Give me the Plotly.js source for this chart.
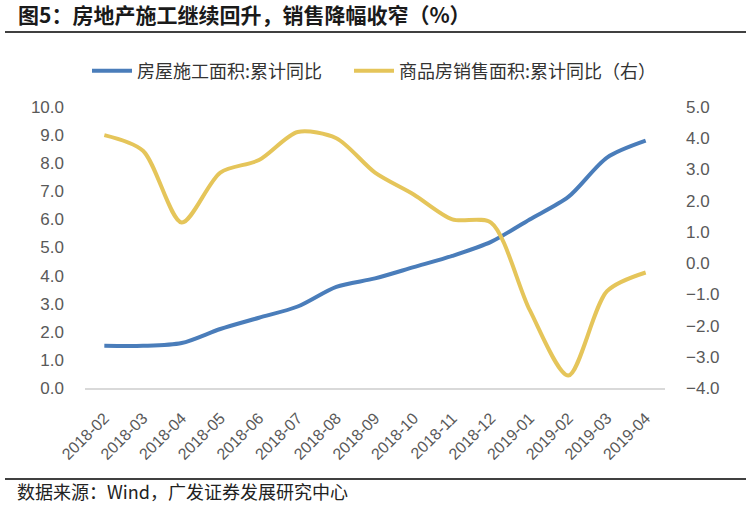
<!DOCTYPE html>
<html>
<head>
<meta charset="utf-8">
<script src="https://cdn.plot.ly/plotly-3.0.1.min.js"></script>
<style>html,body{margin:0;padding:0;background:#fff;}#chart{width:746px;height:514px;}</style>
</head>
<body>
<div id="chart"></div>
<script>
const months = ["2018-02","2018-03","2018-04","2018-05","2018-06","2018-07","2018-08","2018-09","2018-10","2018-11","2018-12","2019-01","2019-02","2019-03","2019-04"];
const constructionYoY = [1.5,1.5,1.6,2.1,2.5,2.9,3.6,3.9,4.3,4.7,5.2,6.0,6.8,8.2,8.8];
const salesYoY = [4.1,3.6,1.3,2.9,3.3,4.2,4.0,2.9,2.2,1.4,1.3,-1.5,-3.6,-0.9,-0.3];
const seriesNames = ["房屋施工面积:累计同比","商品房销售面积:累计同比（右）"];
const leftTicks = [0,1,2,3,4,5,6,7,8,9,10];
const rightTicks = [-4,-3,-2,-1,0,1,2,3,4,5];

const cjk = '"Noto Sans CJK SC", "Liberation Sans", Arial, sans-serif';
const num = '"Liberation Sans", Arial, sans-serif';

const traces = [
  {x: months, y: constructionYoY, name: seriesNames[0], type: 'scatter', mode: 'lines',
   line: {color: '#4a7dba', width: 4, shape: 'spline', smoothing: 0.8}, yaxis: 'y', legend: 'legend'},
  {x: months, y: salesYoY, name: seriesNames[1], type: 'scatter', mode: 'lines',
   line: {color: '#e5c55a', width: 4, shape: 'spline', smoothing: 0.8}, yaxis: 'y2', legend: 'legend2'}
];

const legendFont = {family: cjk, size: 18, color: '#333'};

const layout = {
  width: 746, height: 514,
  margin: {l: 85, r: 81, t: 107, b: 126},
  paper_bgcolor: '#fff', plot_bgcolor: '#fff',
  showlegend: true,
  legend: {orientation: 'h', x: 2/580, y: 1 + 36/281, xanchor: 'left', yanchor: 'middle',
           font: legendFont, itemwidth: 40, bgcolor: 'rgba(0,0,0,0)'},
  legend2: {orientation: 'h', x: 264/580, y: 1 + 36/281, xanchor: 'left', yanchor: 'middle',
           font: legendFont, itemwidth: 40, bgcolor: 'rgba(0,0,0,0)'},
  xaxis: {type: 'category', showgrid: false, zeroline: false, showline: true, linecolor: '#d9d9d9', linewidth: 1.5,
          ticks: '', tickangle: -45, tickfont: {family: num, size: 16, color: '#595959'}, ticklabelstandoff: 13,
          range: [-0.5, months.length - 0.5], fixedrange: true},
  yaxis: {range: [0, 10], tickvals: leftTicks, tickformat: '.1f', showgrid: false, zeroline: false, showline: false,
          ticks: '', tickfont: {family: num, size: 17, color: '#595959'}, ticklabelstandoff: 20},
  yaxis2: {range: [-4, 5], tickvals: rightTicks, tickformat: '.1f', overlaying: 'y', side: 'right', showgrid: false,
           zeroline: false, showline: false, ticks: '', tickfont: {family: num, size: 17, color: '#595959'}, ticklabelstandoff: 20},
  shapes: [
    {type: 'line', xref: 'paper', yref: 'paper', x0: -80/580, x1: 661/580, y0: 1 + 75/281, y1: 1 + 75/281,
     line: {color: '#000', width: 1.3}},
    {type: 'line', xref: 'paper', yref: 'paper', x0: -80/580, x1: 661/580, y0: -91/281, y1: -91/281,
     line: {color: '#000', width: 1.3}}
  ],
  annotations: [
    {text: '<b>图5：房地产施工继续回升，销售降幅收窄（%）</b>', xref: 'paper', yref: 'paper',
     x: -69/580, y: 1 + 93/281, xanchor: 'left', yanchor: 'middle', showarrow: false,
     font: {family: cjk, size: 21, color: '#1a1a1a'}},
    {text: '数据来源：Wind，广发证券发展研究中心', xref: 'paper', yref: 'paper',
     x: -70/580, y: -103/281, xanchor: 'left', yanchor: 'middle', showarrow: false,
     font: {family: cjk, size: 18, color: '#222'}}
  ]
};

Plotly.newPlot('chart', traces, layout, {displayModeBar: false, staticPlot: true});
</script>
</body>
</html>
